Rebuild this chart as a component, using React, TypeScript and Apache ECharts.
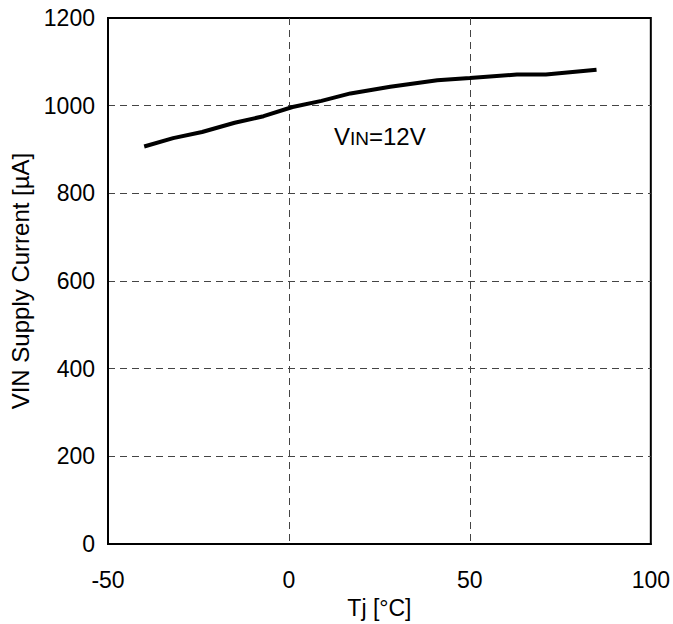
import React, { useEffect, useRef } from "react";
import * as echarts from "echarts";

const temperatures = [-40, -32, -24, -15, -7, 1, 9, 17, 28, 41, 50, 63, 71, 85];
const supplyCurrent = [907, 926, 940, 961, 976, 997, 1011, 1028, 1043, 1058, 1063, 1071, 1071, 1082];
const xTicks = { min: -50, max: 100, interval: 50 };
const yTicks = { min: 0, max: 1200, interval: 200 };
const xName = "Tj [°C]";
const yName = "VIN Supply Current [µA]";

const FONT = "'Liberation Sans', Arial, sans-serif";

export default function App() {
  const ref = useRef<HTMLDivElement>(null);
  useEffect(() => {
    if (!ref.current) return;
    const chart = echarts.init(ref.current, undefined, { renderer: "svg" });
    const dashed = { show: true, showMinLine: false, showMaxLine: false, lineStyle: { color: "#444", width: 1, type: [7, 5] as any } };
    chart.setOption({
      animation: false,
      backgroundColor: "#fff",
      grid: { left: 108, right: 20, top: 18, bottom: 78, show: true, borderColor: "#000", borderWidth: 2, backgroundColor: "transparent" },
      xAxis: {
        type: "value",
        ...xTicks,
        name: xName,
        nameLocation: "middle",
        nameGap: 46,
        nameTextStyle: { color: "#000", fontSize: 23, fontFamily: FONT },
        axisLine: { show: true, onZero: false, lineStyle: { color: "#000", width: 2 } },
        axisTick: { show: false },
        axisLabel: { color: "#000", fontSize: 23, fontFamily: FONT, margin: 24, formatter: (v: number) => String(v) },
        splitLine: dashed,
      },
      yAxis: {
        type: "value",
        ...yTicks,
        name: yName,
        nameLocation: "middle",
        nameGap: 75,
        nameTextStyle: { color: "#000", fontSize: 24, fontFamily: FONT },
        axisLine: { show: true, onZero: false, lineStyle: { color: "#000", width: 2 } },
        axisTick: { show: false },
        axisLabel: { color: "#000", fontSize: 23, fontFamily: FONT, margin: 13, formatter: (v: number) => String(v) },
        splitLine: dashed,
      },
      series: [
        {
          type: "line",
          data: temperatures.map((t, i) => [t, supplyCurrent[i]]),
          showSymbol: false,
          lineStyle: { color: "#000", width: 4 },
          z: 5,
        },
      ],
      graphic: [
        {
          type: "text",
          left: 334,
          top: 124,
          style: {
            text: "{a|V}{b|IN}{a|=12V}",
            fill: "#000",
            rich: {
              a: { fontSize: 24, fontFamily: FONT, fill: "#000", verticalAlign: "bottom" },
              b: { fontSize: 19, fontFamily: FONT, fill: "#000", verticalAlign: "bottom" },
            },
          },
        },
      ],
    });
    return () => chart.dispose();
  }, []);
  return <div ref={ref} style={{ position: "fixed", left: 0, top: 0, width: 673, height: 624 }} />;
}
